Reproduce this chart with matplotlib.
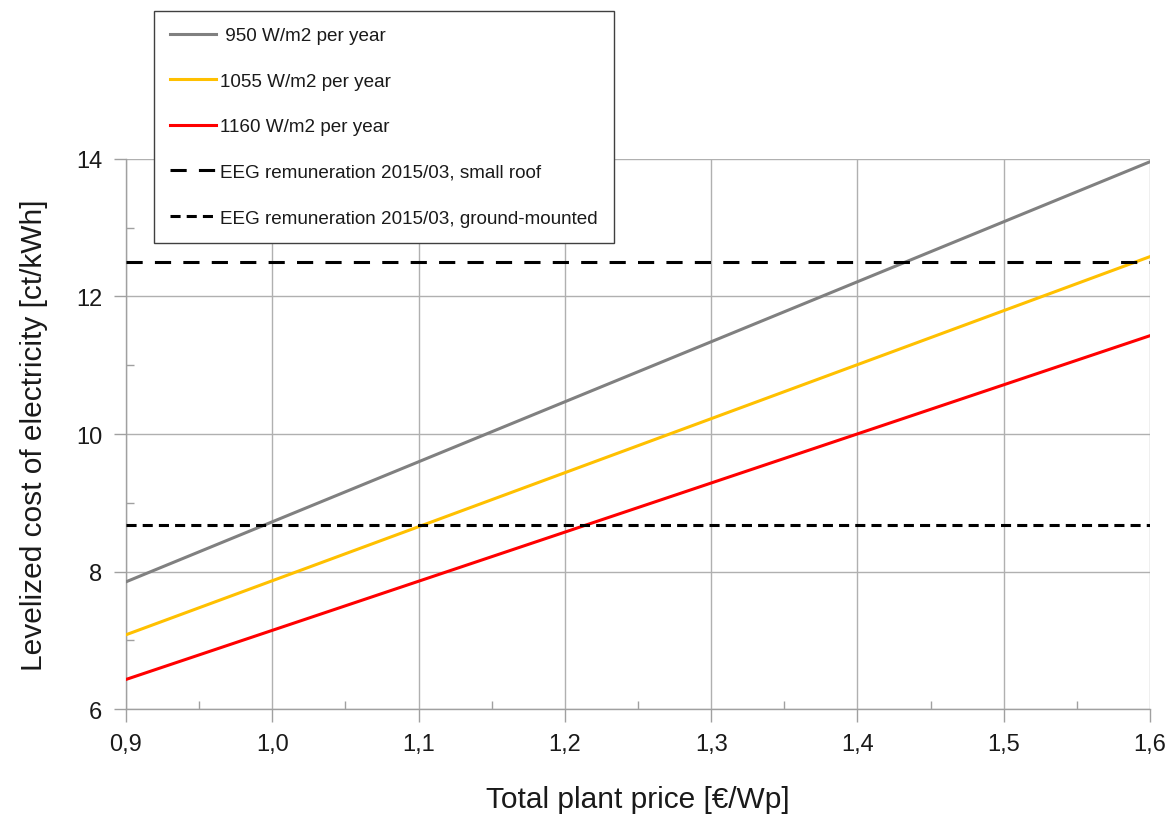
import numpy as np
import matplotlib
matplotlib.use('Agg')
import matplotlib.pyplot as plt
from matplotlib.ticker import MultipleLocator, FuncFormatter

plt.rcParams['font.family'] = ['Liberation Sans', 'DejaVu Sans']

# 数据
price = [0.9, 1.6]
lcoe_950 = [7.85, 13.96]
lcoe_1055 = [7.08, 12.58]
lcoe_1160 = [6.43, 11.43]
eeg_small_roof = 12.50
eeg_ground = 8.67

labels = [' 950 W/m2 per year', '1055 W/m2 per year', '1160 W/m2 per year',
          'EEG remuneration 2015/03, small roof',
          'EEG remuneration 2015/03, ground-mounted']

fig = plt.figure(figsize=(11.76, 8.2), dpi=100)
ax = fig.add_axes([0.1071, 0.1341, 0.8708, 0.6708])

lw = 2.2
ax.plot(price, lcoe_950, color='#808080', lw=lw, label=labels[0], zorder=3)
ax.plot(price, lcoe_1055, color='#FFC000', lw=lw, label=labels[1], zorder=3)
ax.plot(price, lcoe_1160, color='#FF0000', lw=lw, label=labels[2], zorder=3)
ax.plot(price, [eeg_small_roof] * 2, color='black', lw=lw, dashes=(5.3, 4),
        label=labels[3], zorder=3)
ax.plot(price, [eeg_ground] * 2, color='black', lw=lw, dashes=(3.3, 2),
        label=labels[4], zorder=3)

ax.set_xlim(0.9, 1.6)
ax.set_ylim(6, 14)
ax.xaxis.set_major_locator(MultipleLocator(0.1))
ax.xaxis.set_minor_locator(MultipleLocator(0.05))
ax.yaxis.set_major_locator(MultipleLocator(2))
ax.yaxis.set_minor_locator(MultipleLocator(1))
ax.xaxis.set_major_formatter(FuncFormatter(lambda v, p: f'{v:.1f}'.replace('.', ',')))
ax.yaxis.set_major_formatter(FuncFormatter(lambda v, p: f'{v:.0f}'))

ax.grid(which='major', color='#b0b0b0', lw=1.0, zorder=1)
for s in ['top', 'right']:
    ax.spines[s].set_visible(False)
for s in ['left', 'bottom']:
    ax.spines[s].set_color('#a0a0a0')
    ax.spines[s].set_linewidth(1.0)

ax.tick_params(which='major', direction='out', length=9, width=1, color='#a0a0a0',
               labelsize=17, labelcolor='#1a1a1a', pad=8)
ax.tick_params(which='minor', direction='in', length=6, width=1, color='#a0a0a0')

ax.set_xlabel('Total plant price [€/Wp]', fontsize=21.5, color='#1a1a1a', labelpad=22)
ax.set_ylabel('Levelized cost of electricity [ct/kWh]', fontsize=21.5, color='#1a1a1a', labelpad=20)

leg = fig.legend(loc='upper left', bbox_to_anchor=(154 / 1176, 1 - 12 / 820),
                 fontsize=13.6, frameon=True, fancybox=False, edgecolor='#404040',
                 framealpha=1, handlelength=2.45, handletextpad=0.2,
                 labelspacing=1.5, borderpad=0.85, borderaxespad=0)
leg.get_frame().set_linewidth(1.0)
for t in leg.get_texts():
    t.set_color('#1a1a1a')

fig.savefig('out.png', dpi=100)
